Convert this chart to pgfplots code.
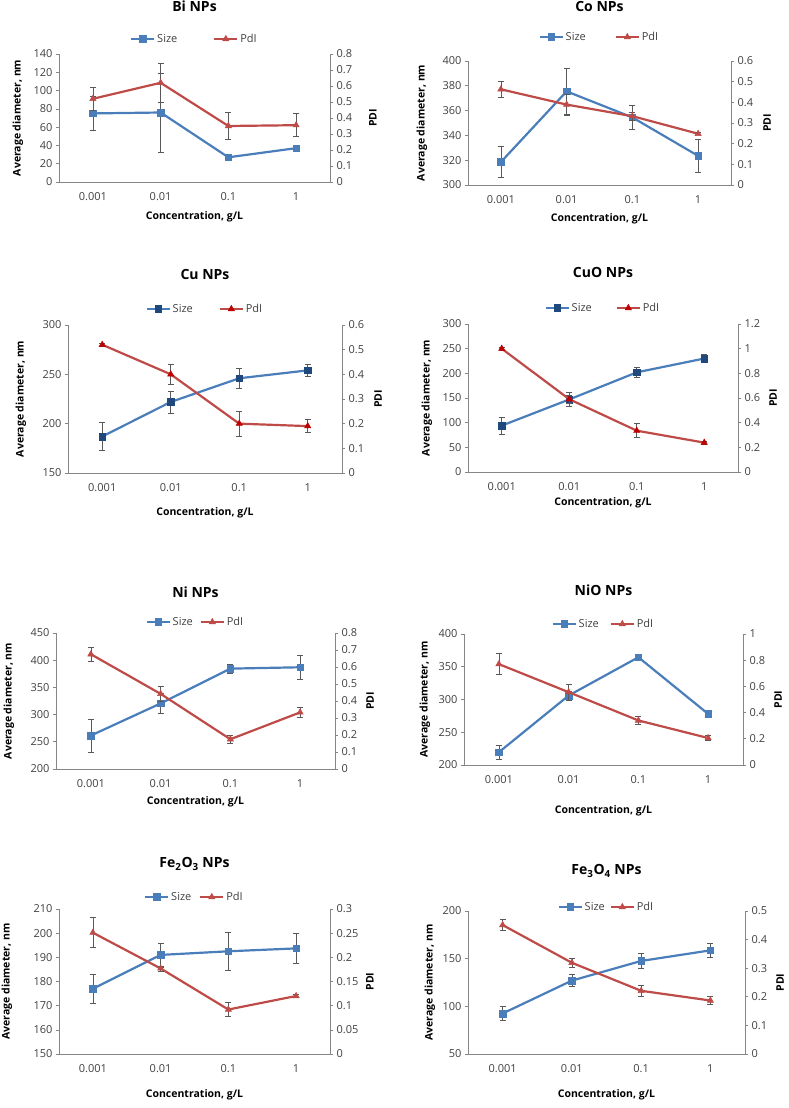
\documentclass[border=0pt]{standalone}
\usepackage{fontspec}
\setmainfont{Open Sans}
\usepackage{pgfplots}
\pgfplotsset{compat=1.18}

\definecolor{sizeblue}{HTML}{4A7EBB}
\definecolor{pdired}{HTML}{BE4B48}
\definecolor{darkblue}{HTML}{1F497D}
\definecolor{darkred}{HTML}{C00000}
\definecolor{axgray}{HTML}{868686}
\definecolor{txtgray}{HTML}{404040}

\newcommand{\labfont}{\fontsize{10.5}{12}\selectfont\bfseries}

\pgfplotsset{
  base/.style={
    scale only axis, clip=false,
    xmin=-0.5, xmax=3.5,
    xtick={0,1,2,3}, xticklabels={0.001,0.01,0.1,1},
    xtick style={draw=none},
    tick align=outside, major tick length=3pt,
    tick style={axgray, line width=0.6pt},
    axis line style={axgray, line width=0.8pt, -},
    tick label style={font=\fontsize{11}{13}\selectfont, txtgray},
    xticklabel style={yshift=-4pt},
    yticklabel style={/pgf/number format/fixed, /pgf/number format/precision=2},
    scaled y ticks=false,
    /pgf/number format/assume math mode=true,
    legend image code/.code={\draw[mark repeat=2,mark phase=2] plot coordinates {(0cm,0cm) (0.4cm,0cm) (0.8cm,0cm)};},
  },
  leftax/.style={base, axis y line*=left, axis x line*=bottom,
    xlabel={Concentration, g/L}, ylabel={Average diameter, nm}},
  rightax/.style={base, axis y line*=right, hide x axis, ylabel={PDI}},
  ylab/.style={every axis y label/.style={at={([xshift=-#1]axis description cs:0,0.5)},rotate=90,anchor=center,font=\labfont,black}},
  ylabR/.style={every axis y label/.style={at={([xshift=#1]axis description cs:1,0.5)},rotate=90,anchor=center,font=\labfont,black}},
  xlab/.style={every axis x label/.style={at={([yshift=-#1]axis description cs:0.5,0)},anchor=center,font=\labfont,black}},
  ttl/.style={title style={at={([yshift=#1]axis description cs:0.5,1)}, anchor=center, font=\bfseries\fontsize{14}{16}\selectfont}},
  leg/.style 2 args={legend style={at={([yshift=#1]axis description cs:0.5,1)}, anchor=center,
    draw=none, fill=none, legend columns=2, font=\fontsize{11}{13}\selectfont, text=txtgray,
    /tikz/every even column/.append style={column sep=#2}}},
  sizeline/.style={sizeblue, line width=2.2pt, mark=square*, mark size=3.3pt,
    mark options={solid, line width=0.5pt, fill=sizeblue}},
  pdiline/.style={pdired, line width=2.2pt, mark=triangle*, mark size=3.6pt,
    mark options={solid, line width=0.5pt, fill=pdired}},
  sizelineD/.style={sizeline, mark options={solid, line width=0.5pt, draw=darkblue, fill=darkblue}},
  pdilineD/.style={pdiline, mark options={solid, line width=0.5pt, draw=darkred, fill=darkred}},
  ebars/.style={error bars/.cd, y dir=both, y explicit,
    error bar style={black!65, line width=0.6pt},
    error mark options={black!65, line width=0.6pt, mark size=3pt, rotate=90}},
}

\begin{document}
\begin{tikzpicture}
\useasboundingbox (0,0) rectangle (789pt,1108pt);

% ---------- Bi NPs ----------
\begin{axis}[leftax, at={(59pt,926pt)}, width=271pt, height=128pt,
  ymin=0, ymax=140, ytick={0,20,...,140},
  ylab=41pt, xlab=35pt, title={Bi NPs}, ttl=42pt, leg={15pt}{34pt}]
\addplot[sizeline, ebars] coordinates {(0,75) +- (0,19) (1,76) +- (0,43) (2,27) +- (0,2) (3,37) +- (0,3)};
\addlegendimage{pdiline}
\legend{Size,PdI}
\end{axis}
\begin{axis}[rightax, at={(59pt,926pt)}, width=271pt, height=128pt,
  ymin=0, ymax=0.8, ytick={0,0.1,...,0.8}, ylabR=43pt]
\addplot[pdiline, ebars] coordinates {(0,0.52) +- (0,0.07) (1,0.62) +- (0,0.12) (2,0.35) +- (0,0.085) (3,0.355) +- (0,0.072)};
\end{axis}

% ---------- Co NPs ----------
\begin{axis}[leftax, at={(468pt,923pt)}, width=263pt, height=124pt,
  ymin=300, ymax=400, ytick={300,320,...,400},
  ylab=46pt, xlab=34pt, title={Co NPs}, ttl=48pt, leg={24pt}{27pt}]
\addplot[sizeline, ebars] coordinates {(0,318.5) +- (0,12.5) (1,375.5) +- (0,18.5) (2,354.5) +- (0,9.5) (3,323.5) +- (0,13.5)};
\addlegendimage{pdiline}
\legend{Size,PdI}
\end{axis}
\begin{axis}[rightax, at={(468pt,923pt)}, width=263pt, height=124pt,
  ymin=0, ymax=0.6, ytick={0,0.1,...,0.6}, ylabR=36pt]
\addplot[pdiline, ebars] coordinates {(0,0.463) +- (0,0.04) (1,0.389) +- (0,0.05) (2,0.333) +- (0,0.02) (3,0.248) +- (0,0.005)};
\end{axis}

% ---------- Cu NPs ----------
\begin{axis}[leftax, at={(68pt,635pt)}, width=274pt, height=148pt,
  ymin=150, ymax=300, ytick={150,200,...,300},
  ylab=47pt, xlab=40pt, title={Cu NPs}, ttl=44pt, leg={16pt}{24pt}]
\addplot[sizelineD, ebars] coordinates {(0,187) +- (0,14.5) (1,222) +- (0,11) (2,246) +- (0,10) (3,254) +- (0,6)};
\addlegendimage{pdilineD}
\legend{Size,PdI}
\end{axis}
\begin{axis}[rightax, at={(68pt,635pt)}, width=274pt, height=148pt,
  ymin=0, ymax=0.6, ytick={0,0.1,...,0.6}, ylabR=36pt]
\addplot[pdilineD, ebars] coordinates {(0,0.52) +- (0,0.005) (1,0.40) +- (0,0.04) (2,0.20) +- (0,0.05) (3,0.19) +- (0,0.026)};
\end{axis}

% ---------- CuO NPs ----------
\begin{axis}[leftax, at={(468pt,636pt)}, width=270pt, height=148pt,
  ymin=0, ymax=300, ytick={0,50,...,300},
  ylab=41pt, xlab=31pt, title={CuO NPs}, ttl=45pt, leg={16pt}{22pt}]
\addplot[sizelineD, ebars] coordinates {(0,94) +- (0,17) (1,147) +- (0,14) (2,202) +- (0,10) (3,230) +- (0,8)};
\addlegendimage{pdilineD}
\legend{Size,PdI}
\end{axis}
\begin{axis}[rightax, at={(468pt,636pt)}, width=270pt, height=148pt,
  ymin=0, ymax=1.2, ytick={0,0.2,...,1.2}, ylabR=35pt]
\addplot[pdilineD, ebars] coordinates {(0,1.0) +- (0,0.01) (1,0.59) +- (0,0.03) (2,0.335) +- (0,0.057) (3,0.238) +- (0,0.01)};
\end{axis}

% ---------- Ni NPs ----------
\begin{axis}[leftax, at={(56pt,339pt)}, width=279pt, height=136pt,
  ymin=200, ymax=450, ytick={200,250,...,450},
  ylab=47pt, xlab=33pt, title={Ni NPs}, ttl=35pt, leg={11pt}{5pt}]
\addplot[sizeline, ebars] coordinates {(0,261.5) +- (0,30.5) (1,320.5) +- (0,18) (2,384.5) +- (0,8.5) (3,387) +- (0,22.5)};
\addlegendimage{pdiline}
\legend{Size,PdI}
\end{axis}
\begin{axis}[rightax, at={(56pt,339pt)}, width=279pt, height=136pt,
  ymin=0, ymax=0.8, ytick={0,0.1,...,0.8}, ylabR=35pt]
\addplot[pdiline, ebars] coordinates {(0,0.675) +- (0,0.043) (1,0.442) +- (0,0.045) (2,0.175) +- (0,0.023) (3,0.333) +- (0,0.028)};
\end{axis}

% ---------- NiO NPs ----------
\begin{axis}[leftax, at={(464pt,343pt)}, width=279pt, height=131pt,
  ymin=200, ymax=400, ytick={200,250,...,400},
  ylab=39pt, xlab=46pt, title={NiO NPs}, ttl=38pt, leg={10pt}{9pt}]
\addplot[sizeline, ebars] coordinates {(0,219.5) +- (0,10.5) (1,306) +- (0,7) (2,364.5) +- (0,2) (3,278) +- (0,2)};
\addlegendimage{pdiline}
\legend{Size,PdI}
\end{axis}
\begin{axis}[rightax, at={(464pt,343pt)}, width=279pt, height=131pt,
  ymin=0, ymax=1, ytick={0,0.2,...,1}, ylabR=35pt]
\addplot[pdiline, ebars] coordinates {(0,0.77) +- (0,0.08) (1,0.556) +- (0,0.06) (2,0.34) +- (0,0.032) (3,0.206) +- (0,0.02)};
\end{axis}

% ---------- Fe2O3 NPs ----------
\begin{axis}[leftax, at={(59pt,54pt)}, width=271pt, height=145pt,
  ymin=150, ymax=210, ytick={150,160,...,210},
  ylab=52pt, xlab=41pt, title={Fe\textsubscript{2}O\textsubscript{3} NPs}, ttl=39pt, leg={12pt}{6pt}]
\addplot[sizeline, ebars] coordinates {(0,177) +- (0,6) (1,191) +- (0,5) (2,192.5) +- (0,7.8) (3,193.7) +- (0,6.1)};
\addlegendimage{pdiline}
\legend{Size,PdI}
\end{axis}
\begin{axis}[rightax, at={(59pt,54pt)}, width=271pt, height=145pt,
  ymin=0, ymax=0.3, ytick={0,0.05,...,0.3}, ylabR=40pt]
\addplot[pdiline, ebars] coordinates {(0,0.251) +- (0,0.031) (1,0.177) +- (0,0.005) (2,0.092) +- (0,0.015) (3,0.12) +- (0,0.003)};
\end{axis}

% ---------- Fe3O4 NPs ----------
\begin{axis}[leftax, at={(468pt,54pt)}, width=277pt, height=143pt,
  ymin=50, ymax=200, ytick={50,100,...,200},
  ylab=38pt, xlab=41pt, title={Fe\textsubscript{3}O\textsubscript{4} NPs}, ttl=34pt, leg={4pt}{3pt}]
\addplot[sizeline, ebars] coordinates {(0,92.5) +- (0,7.2) (1,127) +- (0,6.3) (2,147.6) +- (0,7.8) (3,158.7) +- (0,7.7)};
\addlegendimage{pdiline}
\legend{Size,PdI}
\end{axis}
\begin{axis}[rightax, at={(468pt,54pt)}, width=277pt, height=143pt,
  ymin=0, ymax=0.5, ytick={0,0.1,...,0.5}, ylabR=35pt]
\addplot[pdiline, ebars] coordinates {(0,0.451) +- (0,0.02) (1,0.319) +- (0,0.015) (2,0.221) +- (0,0.019) (3,0.187) +- (0,0.014)};
\end{axis}
\end{tikzpicture}
\end{document}
